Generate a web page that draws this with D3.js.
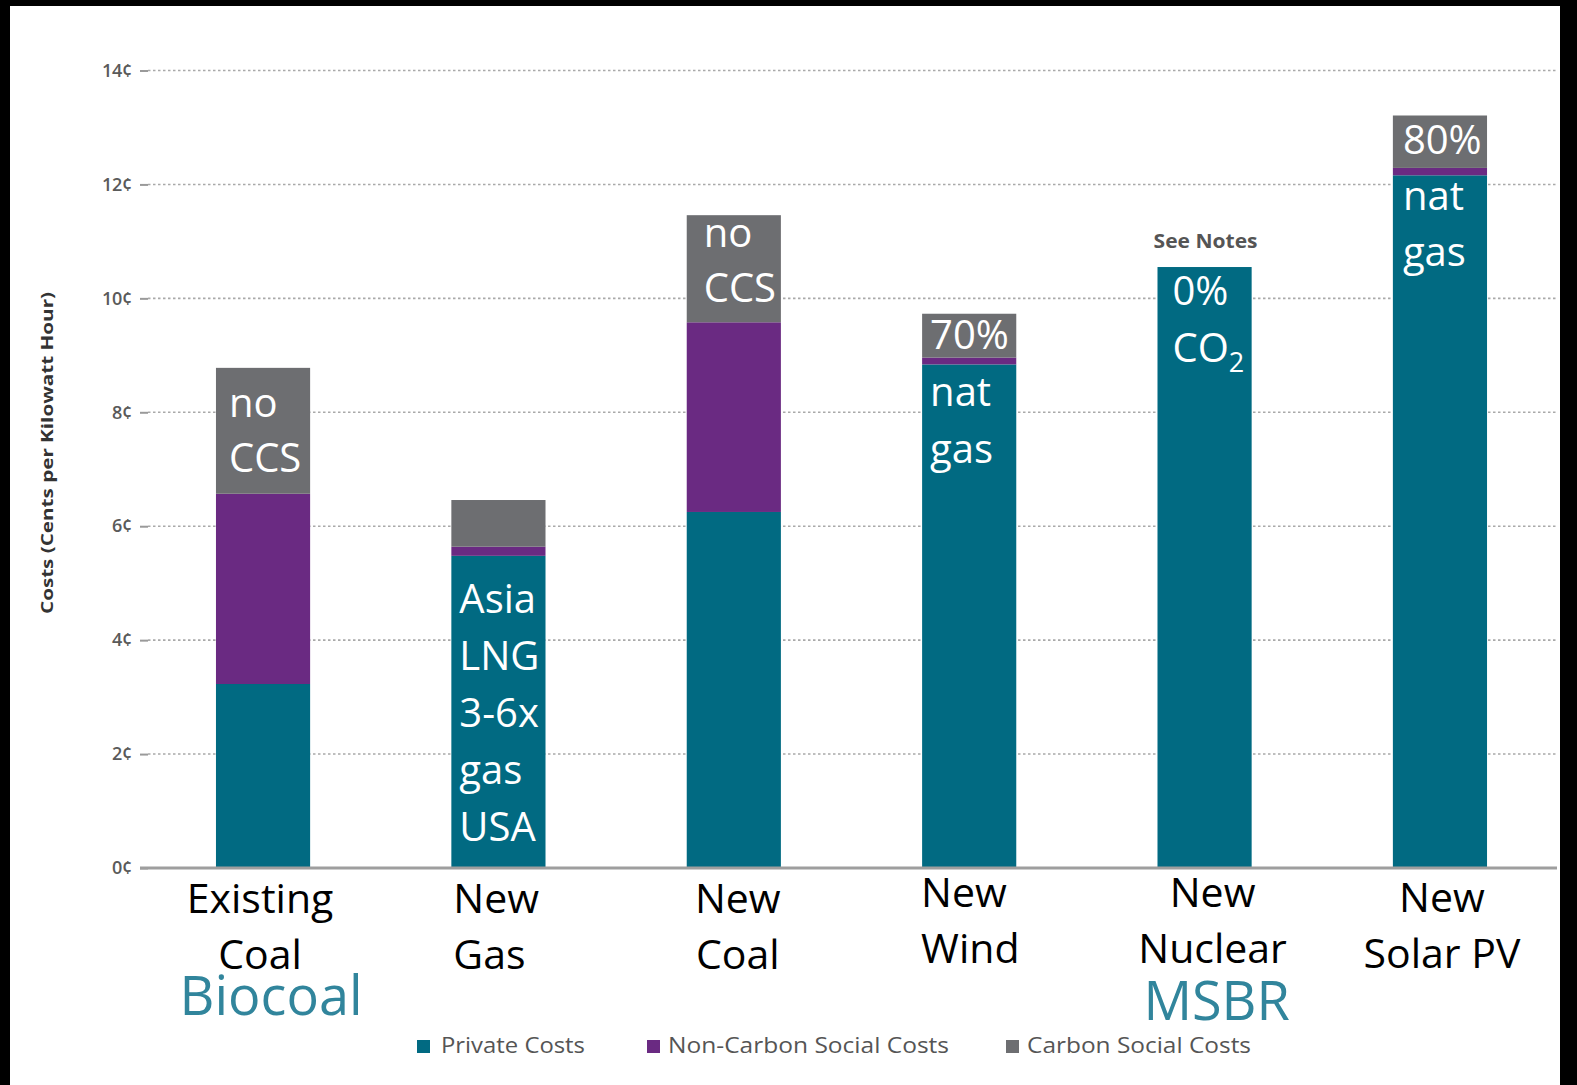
<!DOCTYPE html>
<html>
<head>
<meta charset="utf-8">
<script src="https://cdn.jsdelivr.net/npm/d3@7"></script>
<style>
  html, body { margin: 0; padding: 0; background: #fff; }
  svg { display: block; }
</style>
</head>
<body>
<svg id="chart" width="1577" height="1085"></svg>
<script>
// ---------- DATA ----------
const categories = ["Existing Coal", "New Gas", "New Coal", "New Wind", "New Nuclear", "New Solar PV"];
const categoryLines = [["Existing", "Coal"], ["New", "Gas"], ["New", "Coal"], ["New", "Wind"], ["New", "Nuclear"], ["New", "Solar PV"]];
const privateCosts = [3.23, 5.48, 6.25, 8.84, 10.55, 12.16];
const nonCarbonSocialCosts = [3.34, 0.16, 3.33, 0.12, 0, 0.13];
const carbonSocialCosts = [2.21, 0.82, 1.88, 0.77, 0, 0.92];
const seriesNames = ["Private Costs", "Non-Carbon Social Costs", "Carbon Social Costs"];
const tickValues = [0, 2, 4, 6, 8, 10, 12, 14];
const yAxisTitle = "Costs (Cents per Kilowatt Hour)";
const barNotes = [["no", "CCS"], ["Asia", "LNG", "3-6x", "gas", "USA"], ["no", "CCS"], ["70%", "nat", "gas"], ["0%", "CO|2"], ["80%", "nat", "gas"]];
const alternatives = ["Biocoal", "", "", "", "MSBR", ""];
const aboveNotes = ["", "", "", "", "See Notes", ""];

// ---------- STYLE / LAYOUT ----------
const colors = ["#016a82", "#6a2a82", "#6d6e71"];
const altColor = "#31859c";
const svg = d3.select("#chart");
const W = 1577, H = 1085;

const x = d3.scaleBand().domain(categories).range([143, 1560]).paddingInner(0.6).paddingOuter(0.31);
const y = d3.scaleLinear().domain([0, 14]).range([868, 70.5]);

const table = categories.map((c, i) => ({
  cat: c,
  "Private Costs": privateCosts[i],
  "Non-Carbon Social Costs": nonCarbonSocialCosts[i],
  "Carbon Social Costs": carbonSocialCosts[i]
}));
const stacked = d3.stack().keys(seriesNames)(table);

// gridlines (dotted)
svg.append("g").selectAll("line").data(tickValues.filter(t => t > 0)).join("line")
  .attr("x1", 148).attr("x2", 1557)
  .attr("y1", d => y(d)).attr("y2", d => y(d))
  .attr("stroke", "#a9a9a9").attr("stroke-width", 1.6)
  .attr("stroke-dasharray", "2.5,2.5");

// y axis ticks + labels
const axis = d3.axisLeft(y).tickValues(tickValues).tickFormat(d => d + "¢").tickSize(8).tickPadding(8);
const gAxis = svg.append("g").attr("transform", "translate(148,0)").call(axis);
gAxis.select(".domain").remove();
gAxis.selectAll(".tick line").attr("stroke", "#9a9a9a").attr("stroke-width", 2);
gAxis.selectAll(".tick text")
  .attr("font-family", "'Open Sans', sans-serif").attr("font-size", 18).attr("font-weight", 600)
  .attr("fill", "#5a5a5a").attr("letter-spacing", -0.3);

// bars
svg.append("g").selectAll("g").data(stacked).join("g")
  .attr("fill", (d, i) => colors[i])
  .selectAll("rect").data(d => d).join("rect")
  .attr("x", d => x(d.data.cat))
  .attr("width", x.bandwidth())
  .attr("y", d => y(d[1]))
  .attr("height", d => Math.max(0, y(d[0]) - y(d[1])));

// baseline axis
svg.append("line").attr("x1", 140).attr("x2", 1557).attr("y1", y(0)).attr("y2", y(0))
  .attr("stroke", "#9e9e9e").attr("stroke-width", 3);

// y axis title
svg.append("text")
  .attr("transform", `translate(53,${453}) rotate(-90)`)
  .attr("text-anchor", "middle")
  .attr("font-family", "'Open Sans', sans-serif").attr("font-size", 16).attr("font-weight", 700)
  .attr("fill", "#333").attr("textLength", 322).attr("lengthAdjust", "spacingAndGlyphs")
  .text(yAxisTitle);

// notes inside bars
const noteLayout = [
  { dx: 13, dy: 49, lh: 55 },
  { dx: 8, dy: 113, lh: 57 },
  { dx: 17, dy: 32, lh: 55 },
  { dx: 8, dy: 35, lh: 57 },
  { dx: 15, dy: 38, lh: 57 },
  { dx: 10, dy: 38, lh: 56 }
];
const totals = categories.map((c, i) => privateCosts[i] + nonCarbonSocialCosts[i] + carbonSocialCosts[i]);
categories.forEach((c, i) => {
  const L = noteLayout[i];
  const x0 = x(c) + L.dx;
  const top = y(totals[i]);
  barNotes[i].forEach((line, j) => {
    const t = svg.append("text")
      .attr("x", x0).attr("y", top + L.dy + j * L.lh)
      .attr("font-family", "'Open Sans', sans-serif").attr("font-size", 40)
      .attr("fill", "#fff");
    if (line.includes("|")) {
      const [main, sub] = line.split("|");
      t.append("tspan").text(main);
      t.append("tspan").attr("font-size", 27).attr("dy", 10).text(sub);
    } else {
      t.text(line);
    }
  });
  if (aboveNotes[i]) {
    svg.append("text")
      .attr("x", x(c) + x.bandwidth() / 2 + 1).attr("y", top - 19)
      .attr("text-anchor", "middle")
      .attr("font-family", "'Open Sans', sans-serif").attr("font-size", 19).attr("font-weight", 700)
      .attr("fill", "#555").attr("textLength", 104).attr("lengthAdjust", "spacingAndGlyphs")
      .text(aboveNotes[i]);
  }
});

// category labels
const labelLayout = [
  { anchor: "middle", dx: -3, base: 913 },
  { anchor: "start", dx: 2, base: 913 },
  { anchor: "middle", dx: 4, base: 913 },
  { anchor: "start", dx: -1, base: 907 },
  { anchor: "middle", dx: 8, base: 907 },
  { anchor: "middle", dx: 2, base: 912 }
];
categories.forEach((c, i) => {
  const L = labelLayout[i];
  const xx = (L.anchor === "start" ? x(c) : x(c) + x.bandwidth() / 2) + L.dx;
  categoryLines[i].forEach((line, j) => {
    svg.append("text")
      .attr("x", xx).attr("y", L.base + j * 56)
      .attr("text-anchor", L.anchor)
      .attr("font-family", "'Open Sans', sans-serif").attr("font-size", 41)
      .attr("fill", "#000")
      .text(line);
  });
  if (alternatives[i]) {
    svg.append("text")
      .attr("x", x(c) + x.bandwidth() / 2 + (i === 0 ? 8 : 12))
      .attr("y", i === 0 ? 1015 : 1020)
      .attr("text-anchor", "middle")
      .attr("font-family", "'Open Sans', sans-serif").attr("font-size", 54)
      .attr("fill", altColor)
      .text(alternatives[i]);
  }
});

// legend
const legendLayout = [
  { sx: 417, tx: 441, tw: 144 },
  { sx: 647, tx: 668, tw: 281 },
  { sx: 1006, tx: 1027, tw: 224 }
];
seriesNames.forEach((s, i) => {
  const L = legendLayout[i];
  svg.append("rect").attr("x", L.sx).attr("y", 1040).attr("width", 13).attr("height", 13).attr("fill", colors[i]);
  svg.append("text").attr("x", L.tx).attr("y", 1053)
    .attr("font-family", "'Open Sans', sans-serif").attr("font-size", 21)
    .attr("fill", "#555").attr("textLength", L.tw).attr("lengthAdjust", "spacingAndGlyphs")
    .text(s);
});

// black frame
svg.append("rect").attr("x", 0).attr("y", 0).attr("width", W).attr("height", 6).attr("fill", "#000");
svg.append("rect").attr("x", 0).attr("y", 0).attr("width", 10).attr("height", H).attr("fill", "#000");
svg.append("rect").attr("x", 1560).attr("y", 0).attr("width", W - 1560).attr("height", H).attr("fill", "#000");
</script>
</body>
</html>
